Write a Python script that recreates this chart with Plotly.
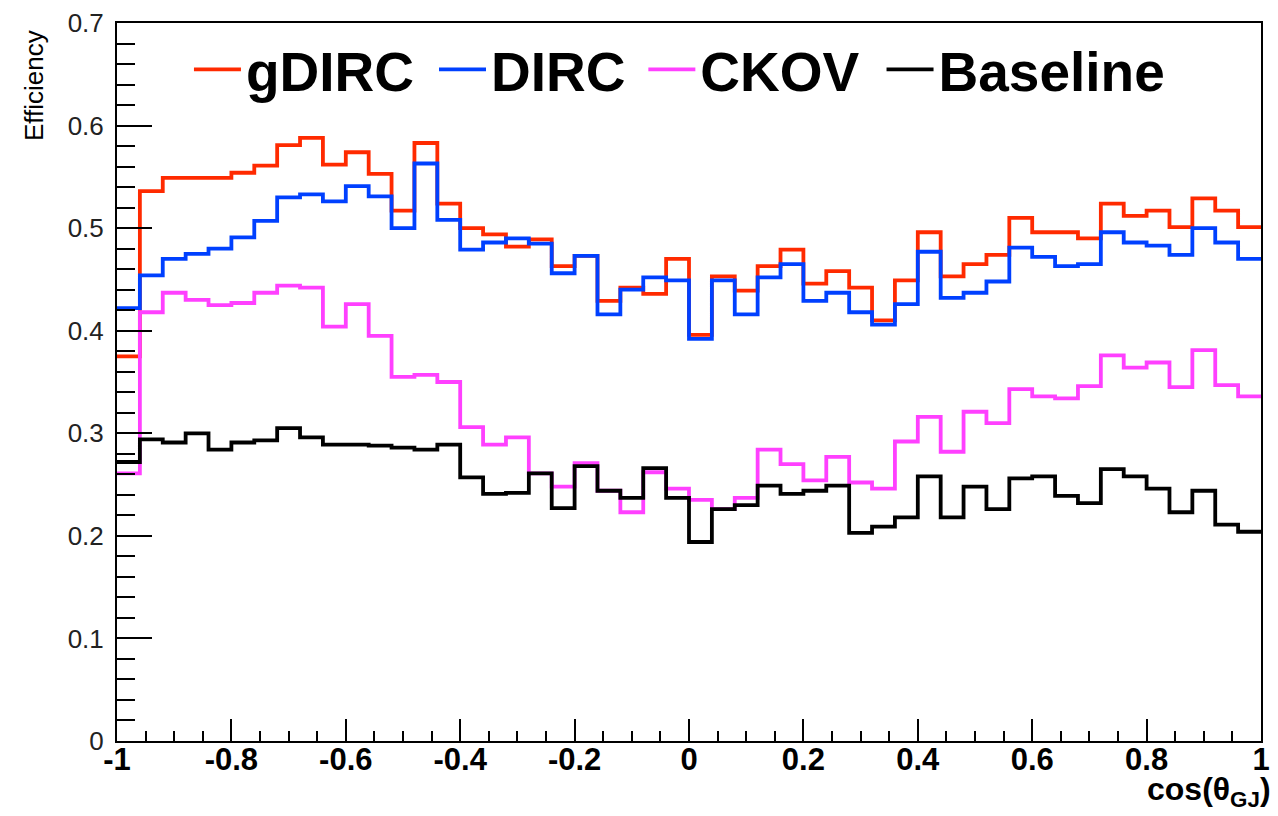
import numpy as np
import plotly.graph_objects as go

# cos(theta_GJ) binning: 50 bins on [-1, 1]
bin_edges = np.linspace(-1.0, 1.0, 51)

gdirc = [0.375, 0.536, 0.549, 0.549, 0.549, 0.554, 0.561, 0.581, 0.588, 0.562,
         0.574, 0.553, 0.517, 0.583, 0.524, 0.500, 0.494, 0.482, 0.489, 0.463,
         0.473, 0.429, 0.442, 0.436, 0.470, 0.396, 0.453, 0.439, 0.463, 0.479,
         0.446, 0.458, 0.442, 0.410, 0.449, 0.496, 0.453, 0.465, 0.474, 0.510,
         0.496, 0.496, 0.490, 0.524, 0.512, 0.517, 0.501, 0.529, 0.517, 0.501]

dirc = [0.422, 0.454, 0.470, 0.475, 0.480, 0.491, 0.507, 0.530, 0.533, 0.526,
        0.541, 0.531, 0.500, 0.563, 0.508, 0.479, 0.486, 0.490, 0.485, 0.456,
        0.473, 0.416, 0.440, 0.452, 0.449, 0.392, 0.449, 0.416, 0.452, 0.465,
        0.429, 0.437, 0.418, 0.406, 0.426, 0.477, 0.432, 0.437, 0.448, 0.481,
        0.472, 0.463, 0.465, 0.496, 0.486, 0.483, 0.474, 0.500, 0.486, 0.470]

ckov = [0.261, 0.418, 0.437, 0.430, 0.425, 0.427, 0.437, 0.444, 0.442, 0.404,
        0.426, 0.395, 0.355, 0.357, 0.350, 0.306, 0.289, 0.296, 0.261, 0.248,
        0.271, 0.244, 0.223, 0.262, 0.246, 0.235, 0.226, 0.237, 0.284, 0.270,
        0.254, 0.277, 0.252, 0.246, 0.292, 0.316, 0.282, 0.321, 0.310, 0.343,
        0.336, 0.334, 0.346, 0.376, 0.364, 0.369, 0.345, 0.381, 0.347, 0.336]

baseline = [0.272, 0.294, 0.291, 0.300, 0.284, 0.291, 0.293, 0.305, 0.296, 0.289,
            0.289, 0.288, 0.286, 0.284, 0.289, 0.257, 0.241, 0.242, 0.261, 0.227,
            0.268, 0.244, 0.237, 0.266, 0.237, 0.194, 0.226, 0.230, 0.249, 0.241,
            0.244, 0.249, 0.203, 0.209, 0.218, 0.258, 0.218, 0.248, 0.226, 0.256,
            0.258, 0.239, 0.232, 0.265, 0.258, 0.246, 0.223, 0.244, 0.211, 0.204]

series_names = ["gDIRC", "DIRC", "CKOV", "Baseline"]
series_values = [gdirc, dirc, ckov, baseline]
series_colors = ["#ff2a00", "#0040ff", "#ff40ff", "#000000"]

x_tick_vals = [-1, -0.8, -0.6, -0.4, -0.2, 0, 0.2, 0.4, 0.6, 0.8, 1]
x_tick_text = ["-1", "-0.8", "-0.6", "-0.4", "-0.2", "0", "0.2", "0.4", "0.6", "0.8", "1"]
y_tick_vals = [0, 0.1, 0.2, 0.3, 0.4, 0.5, 0.6, 0.7]
y_tick_text = ["0", "0.1", "0.2", "0.3", "0.4", "0.5", "0.6", "0.7"]

FONT = "Liberation Sans, Arial, Helvetica, sans-serif"

# one legend box per entry so the entries can be spread across the top
legend_ids = ["legend", "legend2", "legend3", "legend4"]
legend_x = [0.0629, 0.2771, 0.4601, 0.6683]

fig = go.Figure()
for name, vals, color, lid in zip(series_names, series_values, series_colors, legend_ids):
    # step outline: each bin drawn flat from its low edge to its high edge
    xs = list(bin_edges)
    ys = list(vals) + [vals[-1]]
    fig.add_trace(go.Scatter(
        x=xs, y=ys, mode="lines", name=name, legend=lid,
        line=dict(color=color, width=3.8, shape="hv"),
    ))

legend_style = dict(
    orientation="h", y=0.935, xanchor="left", yanchor="middle",
    font=dict(family=FONT, size=55, color="black", weight="bold"),
    bgcolor="rgba(0,0,0,0)", borderwidth=0, itemwidth=47,
)
legend_layout = {lid: dict(legend_style, x=lx) for lid, lx in zip(legend_ids, legend_x)}

fig.update_layout(
    width=1278, height=816,
    margin=dict(l=117, r=8, t=20, b=75),
    paper_bgcolor="white", plot_bgcolor="white",
    font=dict(family=FONT, color="black"),
    showlegend=True,
    **legend_layout,
    xaxis=dict(
        range=[-1, 1], showgrid=False, zeroline=False,
        showline=True, linecolor="black", linewidth=2, mirror=True,
        ticks="inside", ticklen=22, tickwidth=2, tickcolor="black",
        tickvals=x_tick_vals, ticktext=x_tick_text,
        tickfont=dict(family=FONT, size=31, color="black", weight="bold"),
        ticklabelstandoff=-10,
        minor=dict(ticks="inside", ticklen=10, tickwidth=2, tickcolor="black",
                   dtick=0.05, tick0=-1, showgrid=False),
    ),
    yaxis=dict(
        range=[0, 0.7], showgrid=False, zeroline=False,
        showline=True, linecolor="black", linewidth=2, mirror=True,
        ticks="inside", ticklen=35, tickwidth=2, tickcolor="black",
        tickvals=y_tick_vals, ticktext=y_tick_text,
        tickfont=dict(family=FONT, size=26, color="#222222"),
        ticklabelstandoff=6,
        minor=dict(ticks="inside", ticklen=18, tickwidth=2, tickcolor="black",
                   dtick=0.02, tick0=0, showgrid=False),
    ),
    annotations=[
        dict(text="Efficiency", textangle=-90, xref="paper", yref="paper",
             x=-0.073, y=0.993, xanchor="center", yanchor="top", showarrow=False,
             font=dict(family=FONT, size=26, color="black")),
        dict(text="<b>cos(θ<sub>GJ</sub>)</b>", xref="paper", yref="paper",
             x=1.0, y=-0.07, xanchor="right", yanchor="middle", showarrow=False,
             xshift=12, font=dict(family=FONT, size=32, color="black")),
    ],
)

fig.write_html("out.html")
